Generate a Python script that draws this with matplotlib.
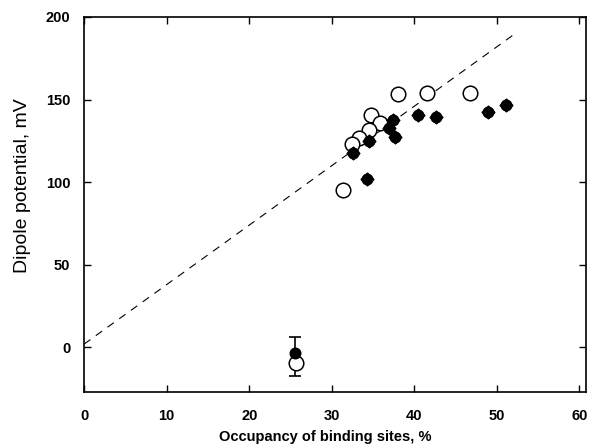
import matplotlib
matplotlib.use("Agg")
import matplotlib.pyplot as plt
import numpy as np

plt.rcParams['font.family'] = ['Liberation Sans', 'DejaVu Sans']

# open circles: occupancy (%) vs dipole potential (mV)
open_x = [38.0, 41.5, 46.7, 34.8, 35.8, 34.5, 33.3, 32.4, 31.4, 25.7]
open_y = [153.3, 153.9, 153.9, 140.6, 135.8, 131.5, 126.7, 123.0, 95.2, -9.5]

# filled diamonds
filled_x = [40.5, 37.4, 36.9, 37.7, 34.5, 32.6, 34.3, 42.6, 48.9, 51.1]
filled_y = [140.6, 137.6, 132.7, 127.3, 124.8, 117.6, 101.8, 139.4, 142.4, 146.7]

# control point with error bar
ctrl_x = [25.6]
ctrl_y = [-3.4]
ctrl_err = [[14.0], [10.0]]

# dashed fit line
fit_x = [0.0, 52.0]
fit_slope = 3.6
fit_icpt = 2.0

fig = plt.figure(figsize=(5.92, 4.47), dpi=100)
ax = fig.add_axes([0.142, 0.123, 0.848, 0.839])

fx = np.array(fit_x)
ax.plot(fx, fit_slope * fx + fit_icpt, color='black', lw=0.8,
        dashes=(7, 6))

ax.errorbar(ctrl_x, ctrl_y, yerr=ctrl_err, fmt='none', ecolor='black',
            elinewidth=1.2, capsize=4, capthick=1.2, zorder=3)
ax.scatter(open_x, open_y, s=110, facecolors='white', edgecolors='black',
           linewidths=1.1, zorder=4)
# rounded diamonds: a diamond with a circle on top
ax.scatter(filled_x, filled_y, s=42, marker='D', color='black', zorder=5)
ax.scatter(filled_x, filled_y, s=58, marker='o', color='black', zorder=5)
ax.scatter(ctrl_x, ctrl_y, s=58, marker='o', color='black', zorder=6)

ax.set_xlim(0, 60.8)
ax.set_ylim(-27, 200)
ax.set_xticks([0, 10, 20, 30, 40, 50, 60])
ax.set_yticks([0, 50, 100, 150, 200])
ax.tick_params(direction='in', top=True, right=True, length=5, width=1,
               labelsize=10.5)
ax.tick_params(axis='x', pad=12)
ax.tick_params(axis='y', pad=10)
for lab in ax.get_xticklabels() + ax.get_yticklabels():
    lab.set_fontweight('bold')
for s in ax.spines.values():
    s.set_linewidth(1.2)

ax.set_xlabel('Occupancy of binding sites, %', fontsize=10.5, fontweight='bold')
ax.xaxis.set_label_coords(0.48, -0.102)
ax.set_ylabel('Dipole potential, mV', fontsize=14)
ax.yaxis.set_label_coords(-0.105, 0.55)

fig.savefig('out.png', dpi=100)
